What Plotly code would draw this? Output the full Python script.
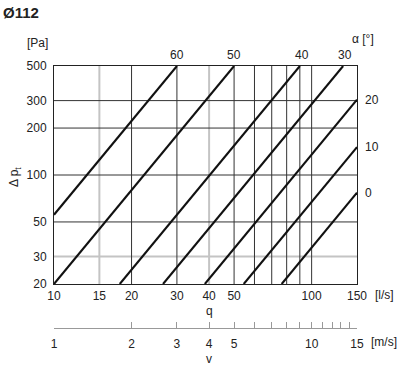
import math
import plotly.graph_objects as go

# ---- data ----
alpha = [60, 50, 40, 30, 20, 10, 0]
q_start = [10, 10, 18, 26.5, 38.5, 54.5, 76.5]      # l/s
dp_start = [55.6, 20, 20, 20, 20, 20, 20]           # Pa
q_end = [30, 50, 90, 132.5, 150, 150, 150]          # l/s
dp_end = [500, 500, 500, 500, 304, 151, 77]         # Pa

q_ticks = [10, 15, 20, 30, 40, 50, 100, 150]
dp_ticks = [20, 30, 50, 100, 200, 300, 500]
q_grid_dark = [20, 30, 50, 60, 70, 80, 90, 100]
q_grid_light = [15, 40]
dp_grid_dark = [50, 100, 200, 300]
dp_grid_light = [30]
v_ticks = [1, 2, 3, 4, 5, 6, 7, 8, 9, 10, 11, 12, 13, 14, 15]
v_labels = ["1", "2", "3", "4", "5", "", "", "", "", "10", "", "", "", "", "15"]

W, H = 400, 366
ML, MR, MT, MB = 54, 43, 66, 38
PW = W - ML - MR
PH = H - MT - MB
plot_bottom_px = 284
FONT = "Liberation Sans, Arial, Helvetica, sans-serif"
DARK = "#222222"


def px_x(x):
    return (x - ML) / PW


def px_y(y):
    return (H - MB - y) / PH


fig = go.Figure()

for a, qs, ps, qe, pe in zip(alpha, q_start, dp_start, q_end, dp_end):
    fig.add_trace(go.Scatter(x=[qs, qe], y=[ps, pe], mode="lines",
                             line=dict(color="#111111", width=2.1),
                             hoverinfo="skip", showlegend=False))

# invisible trace to carry the velocity axis
fig.add_trace(go.Scatter(x=v_ticks, y=[None] * len(v_ticks), xaxis="x2", yaxis="y",
                         mode="lines", showlegend=False, hoverinfo="skip"))

shapes = []
for q in q_grid_light:
    shapes.append(dict(type="line", xref="x", yref="y domain", x0=q, x1=q, y0=0, y1=1,
                       line=dict(color="#c4c4c4", width=2), layer="below"))
for p in dp_grid_light:
    shapes.append(dict(type="line", xref="x domain", yref="y", x0=0, x1=1, y0=p, y1=p,
                       line=dict(color="#c4c4c4", width=2), layer="below"))
for q in q_grid_dark:
    shapes.append(dict(type="line", xref="x", yref="y domain", x0=q, x1=q, y0=0, y1=1,
                       line=dict(color="#333333", width=1), layer="below"))
for p in dp_grid_dark:
    shapes.append(dict(type="line", xref="x domain", yref="y", x0=0, x1=1, y0=p, y1=p,
                       line=dict(color="#333333", width=1), layer="below"))

annotations = []
for a, qe, pe in zip(alpha, q_end, dp_end):
    if pe >= 500:
        annotations.append(dict(x=math.log10(qe), y=math.log10(pe), xref="x", yref="y",
                                text=str(a), showarrow=False, xanchor="center",
                                yanchor="bottom", yshift=2, xshift=2 if qe > 60 else 0,
                                font=dict(size=12, color=DARK)))
    else:
        annotations.append(dict(x=math.log10(qe), y=math.log10(pe), xref="x", yref="y",
                                text=str(a), showarrow=False, xanchor="left",
                                yanchor="middle", xshift=6,
                                font=dict(size=12, color=DARK)))


def ann(text, x, y, xanchor="center", size=12, angle=0):
    annotations.append(dict(text=text, x=px_x(x), y=px_y(y), xref="paper", yref="paper",
                            showarrow=False, xanchor=xanchor, yanchor="middle",
                            textangle=angle, font=dict(size=size, color=DARK)))


ann("<b>Ø112</b>", 1, 12, xanchor="left", size=15)
ann("[Pa]", 37, 43)
ann("α [°]", 363, 39)
ann("Δ p<sub>t</sub>", 15, 177, angle=-90)
ann("[l/s]", 384, 295)
ann("q", 209, 311)
ann("[m/s]", 384, 342)
ann("v", 209, 359)

ydom0 = px_y(plot_bottom_px)

fig.update_layout(
    width=W, height=H,
    margin=dict(l=ML, r=MR, t=MT, b=MB, autoexpand=False),
    paper_bgcolor="white", plot_bgcolor="white",
    font=dict(family=FONT, size=12, color=DARK),
    showlegend=False,
    shapes=shapes,
    annotations=annotations,
    xaxis=dict(type="log", range=[math.log10(10), math.log10(150)], domain=[0, 1],
               tickvals=q_ticks, ticktext=[str(v) for v in q_ticks],
               showgrid=False, zeroline=False, showline=True, mirror=True,
               linecolor=DARK, linewidth=1, ticks="", ticklabelstandoff=1,
               automargin=False, tickfont=dict(size=12, color=DARK)),
    yaxis=dict(type="log", range=[math.log10(20), math.log10(500)], domain=[ydom0, 1],
               tickvals=dp_ticks, ticktext=[str(v) for v in dp_ticks],
               showgrid=False, zeroline=False, showline=True, mirror=True,
               linecolor=DARK, linewidth=1, ticks="", ticklabelstandoff=4,
               automargin=False, tickfont=dict(size=12, color=DARK)),
    xaxis2=dict(type="log", range=[0, math.log10(15)], overlaying="x", anchor="free",
                position=0, side="bottom",
                tickvals=v_ticks, ticktext=v_labels,
                showgrid=False, zeroline=False, showline=True, linecolor="#999999",
                linewidth=1, ticks="inside", ticklen=6, tickcolor="#999999", tickwidth=1,
                ticklabelstandoff=5, automargin=False,
                tickfont=dict(size=12, color=DARK)),
)

fig.write_html("out.html", config={"displayModeBar": False},
               post_script="document.body.style.margin='0';document.body.style.padding='0';")
